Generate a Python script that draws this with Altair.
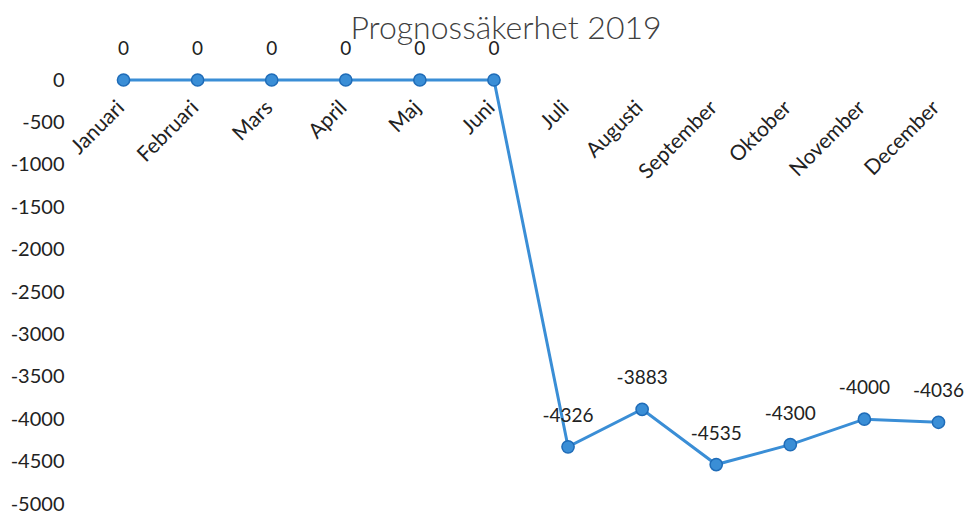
import altair as alt
import pandas as pd

months = ["Januari", "Februari", "Mars", "April", "Maj", "Juni", "Juli",
          "Augusti", "September", "Oktober", "November", "December"]
values = [0, 0, 0, 0, 0, 0, -4326, -3883, -4535, -4300, -4000, -4036]
y_ticks = [0, -500, -1000, -1500, -2000, -2500, -3000, -3500, -4000, -4500, -5000]

df = pd.DataFrame({"month": months, "value": values})

BLUE = "#3a8ed6"
FONT = "Lato"

x_enc = alt.X("month:N", sort=months, scale=alt.Scale(type="point", padding=0.25), axis=None)
y_enc = alt.Y(
    "value:Q",
    scale=alt.Scale(domain=[-5000, 0], nice=False, zero=False),
    axis=alt.Axis(values=y_ticks, grid=False, domain=False, ticks=False,
                  labelFontSize=20, labelFont=FONT, labelColor="#222222",
                  labelPadding=41, labelExpr="toString(datum.value)", title=None),
)

base = alt.Chart(df).encode(x=x_enc).transform_calculate(label="toString(datum.value)")

line = base.mark_line(color=BLUE, strokeWidth=3).encode(y=y_enc)
pts = base.mark_circle(size=150, color=BLUE, stroke="#1f6cb8", strokeWidth=1.5, opacity=1).encode(y=y_enc)
vlabels = base.mark_text(dy=-31, fontSize=19, font=FONT, color="#222222").encode(
    y=y_enc, text="label:N")
mlabels = base.mark_text(angle=315, align="right", baseline="middle", dx=-19, dy=16,
                         fontSize=21, font=FONT, color="#222222").encode(
    y=alt.datum(0), text="month:N")

chart = alt.layer(line, pts, vlabels, mlabels).properties(
    width=852, height=424,
    autosize=alt.AutoSizeParams(type="none"),
    padding={"left": 97, "top": 72, "right": 9, "bottom": 10},
    title=alt.TitleParams("Prognossäkerhet 2019", fontSize=32, font=FONT, fontWeight=300,
                          color="#404040", anchor="middle", dx=-25, offset=-6),
).configure_view(stroke=None)

chart.save("out.html", embed_options={"renderer": "svg", "actions": False})
